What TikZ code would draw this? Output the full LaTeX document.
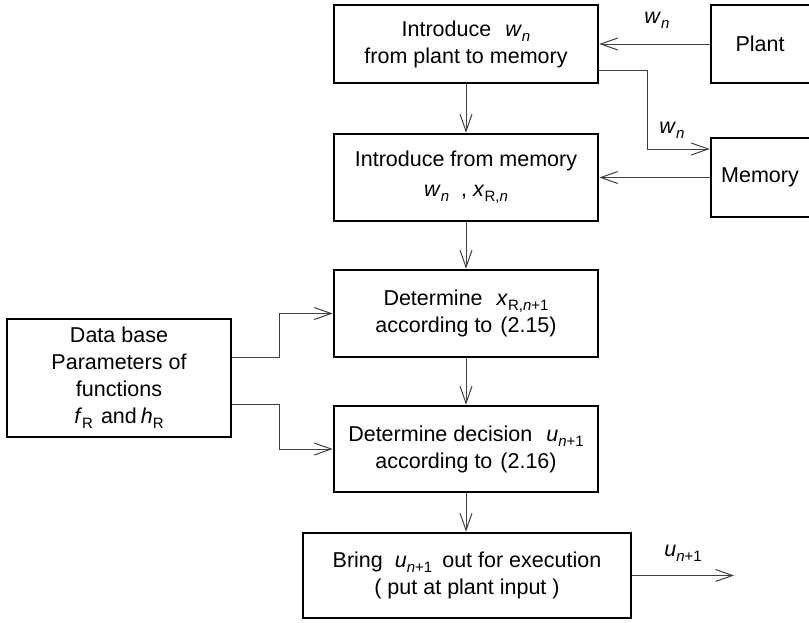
\documentclass[tikz,border=0pt]{standalone}
\usepackage{fontspec}
\setmainfont{Liberation Sans}
\usetikzlibrary{arrows.meta,calc}
\newcommand\vi[1]{\textit{#1}}
\newcommand\sbx[1]{\raisebox{-5pt}{\fontsize{15}{15}\selectfont #1}}
\begin{document}
\begin{tikzpicture}[x=1pt,y=-1pt,
  box/.style={draw=black,line width=2.6pt,inner sep=0pt,align=center,
    font=\fontsize{21.5}{27}\selectfont},
  lbl/.style={inner sep=0pt,font=\fontsize{21.5}{27}\selectfont},
  arr/.style={draw=black!75,line width=1pt,
    -{Straight Barb[length=17pt,width=12pt,line width=1pt]}}]
\useasboundingbox (0,0) rectangle (809,622);
\node[box,minimum width=264pt,minimum height=78pt] (b1) at (466,44)
  {Introduce\hspace{14pt}\vi{w}\sbx{\vi{n}}\\from plant to memory};
\node[box,minimum width=264pt,minimum height=87pt] (b2) at (466,177.5)
  {Introduce from memory\\[3pt]\vi{w}\sbx{\vi{n}}\hspace{12pt}, \vi{x}\sbx{R,\vi{n}}};
\node[box,minimum width=264pt,minimum height=87pt] (b3) at (466,313.5)
  {Determine\hspace{14pt}\vi{x}\sbx{R,\vi{n}+1}\\according to\hspace{8pt}(2.15)};
\node[box,minimum width=264pt,minimum height=86pt] (b4) at (466,449)
  {Determine decision\hspace{14pt}\vi{u}\sbx{\vi{n}+1}\\according to\hspace{8pt}(2.16)};
\node[box,minimum width=328pt,minimum height=85pt] (b5) at (467,575.5)
  {Bring\hspace{12pt}\vi{u}\sbx{\vi{n}+1}\hspace{10pt}out for execution\\( put at plant input )};
\node[box,minimum width=104pt,minimum height=78pt] (plant) at (763,44) {Plant\hspace{6pt}};
\node[box,minimum width=104pt,minimum height=79pt] (mem) at (763,177.5) {Memory\hspace{6pt}};
\node[box,minimum width=224pt,minimum height=118pt] (db) at (119,378)
  {Data base\\Parameters of\\functions\\\vi{f}\sbx{R}\hspace{8pt}and\hspace{4pt}\vi{h}\sbx{R}};
\node[lbl] (l1) at (657,20) {\vi{w}\sbx{\vi{n}}};
\node[lbl] (l2) at (672,130) {\vi{w}\sbx{\vi{n}}};
\node[lbl] (l3) at (683,553) {\vi{u}\sbx{\vi{n}+1}};
\coordinate (k1) at (647,149);
\coordinate (out) at (734,578);
\draw[arr] (plant) -- (b1);
\draw[arr] ([yshift=-26pt]b1.east) -| (k1) -- (k1 -| mem.west);
\draw[arr] (mem) -- (b2);
\draw[arr] (b1) -- (b2);
\draw[arr] (b2) -- (b3);
\draw[arr] (b3) -- (b4);
\draw[arr] (b4) -- (b4.south |- b5.north);
\draw[arr] ([yshift=21pt]db.east) -- ++(47,0) |- (b3.west);
\draw[arr] ([yshift=-26pt]db.east) -- ++(47,0) |- (b4.west);
\draw[arr] (b5.east) -- (out |- b5.east);
\end{tikzpicture}
\end{document}
